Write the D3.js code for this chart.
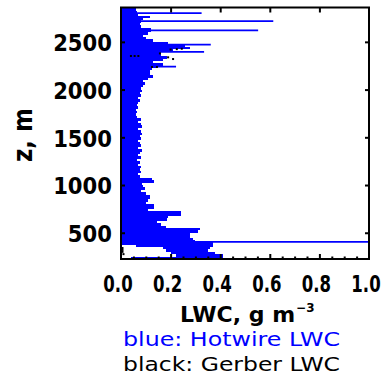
<!DOCTYPE html>
<html>
<head>
<meta charset="utf-8">
<script src="https://cdn.jsdelivr.net/npm/d3@7"></script>
<style>
  html, body { margin: 0; padding: 0; background: #fff; }
  svg { display: block; }
</style>
</head>
<body>
<svg id="chart" width="389" height="376"></svg>
<script>
// Altitude bands (centre, m), 25 m thick, with hotwire LWC range in each band (g m^-3)
const altitude = [
  237.5, 262.5, 287.5, 312.5, 337.5, 362.5, 387.5, 412.5, 437.5, 462.5,
  487.5, 512.5, 537.5, 562.5, 587.5, 612.5, 637.5, 662.5, 687.5, 712.5,
  737.5, 762.5, 787.5, 812.5, 837.5, 862.5, 887.5, 912.5, 937.5, 962.5,
  987.5, 1012.5, 1037.5, 1062.5, 1087.5, 1112.5, 1137.5, 1162.5, 1187.5, 1212.5,
  1237.5, 1262.5, 1287.5, 1312.5, 1337.5, 1362.5, 1387.5, 1412.5, 1437.5, 1462.5,
  1487.5, 1512.5, 1537.5, 1562.5, 1587.5, 1612.5, 1637.5, 1662.5, 1687.5, 1712.5,
  1737.5, 1762.5, 1787.5, 1812.5, 1837.5, 1862.5, 1887.5, 1912.5, 1937.5, 1962.5,
  1987.5, 2012.5, 2037.5, 2062.5, 2087.5, 2112.5, 2137.5, 2162.5, 2187.5, 2212.5,
  2237.5, 2262.5, 2287.5, 2312.5, 2337.5, 2362.5, 2387.5, 2412.5, 2437.5, 2462.5,
  2487.5, 2512.5, 2537.5, 2562.5, 2587.5, 2612.5, 2637.5, 2662.5, 2687.5, 2712.5,
  2737.5, 2762.5, 2787.5, 2812.5, 2837.5, 2862.5
];
const hotwireLow = [
  0.04, 0.22, 0.20, 0.18, 0.17, 0.06, 0, 0, 0, 0,
  0, 0, 0, 0, 0, 0, 0, 0, 0, 0,
  0, 0, 0, 0, 0, 0, 0, 0, 0, 0,
  0, 0, 0, 0, 0, 0, 0, 0, 0, 0,
  0, 0, 0, 0, 0, 0, 0, 0, 0, 0,
  0, 0, 0, 0, 0, 0, 0, 0, 0, 0,
  0, 0, 0, 0, 0, 0, 0, 0, 0, 0,
  0, 0, 0, 0, 0, 0, 0, 0, 0, 0,
  0, 0, 0, 0, 0, 0, 0, 0, 0, 0,
  0, 0, 0, 0, 0, 0, 0, 0, 0, 0,
  0, 0, 0, 0, 0, 0
];
const hotwireHigh = [
  0.41, 0.41, 0.38, 0.35, 0.36, 0.37, 0.37, 0.30, 0.29, 0.28,
  0.28, 0.31, 0.32, 0.18, 0.16, 0.145, 0.185, 0.19, 0.24, 0.24,
  0.11, 0.135, 0.135, 0.10, 0.11, 0.117, 0.115, 0.10, 0.08, 0.095,
  0.09, 0.085, 0.133, 0.125, 0.075, 0.07, 0.082, 0.075, 0.08, 0.07,
  0.075, 0.065, 0.08, 0.07, 0.075, 0.085, 0.07, 0.08, 0.075, 0.07,
  0.08, 0.075, 0.085, 0.08, 0.07, 0.085, 0.08, 0.07, 0.08, 0.065,
  0.06, 0.065, 0.06, 0.07, 0.065, 0.07, 0.075, 0.07, 0.08, 0.075,
  0.085, 0.08, 0.09, 0.095, 0.09, 0.11, 0.13, 0.115, 0.115, 0.125,
  0.14, 0.17, 0.13, 0.17, 0.185, 0.16, 0.16, 0.21, 0.28, 0.26,
  0.19, 0.13, 0.10, 0.09, 0.11, 0.12, 0.12, 0.08, 0.075, 0.08,
  0.09, 0.117, 0.07, 0.065, 0.06, 0.09
];

// Isolated hotwire peaks (single samples)
const spikeAltitude = [2802, 2717, 2620, 2470, 2395, 2241, 405];
const spikeLwc = [0.325, 0.614, 0.553, 0.362, 0.335, 0.222, 1.0];

// Gerber probe samples
const gerberAltitude = [2420, 2424, 2428, 2379, 2352, 2352, 2352, 2338, 2320, 2237, 2237, 340, 320, 300, 276];
const gerberLwc = [0.20, 0.225, 0.245, 0.157, 0.04, 0.055, 0.07, 0.19, 0.21, 0.125, 0.145, 0.006, 0.006, 0.006, 0.01];

const xTicks = [0, 0.2, 0.4, 0.6, 0.8, 1.0];
const xTickLabels = ["0.0", "0.2", "0.4", "0.6", "0.8", "1.0"];
const xMinorTicks = [0.05, 0.1, 0.15, 0.25, 0.3, 0.35, 0.45, 0.5, 0.55, 0.65, 0.7, 0.75, 0.85, 0.9, 0.95];
const yTicks = [500, 1000, 1500, 2000, 2500];
const yTickLabels = ["500", "1000", "1500", "2000", "2500"];
const zDomain = [225, 2860];
const bandHalf = 12.5;

const BLUE = "#0000ff";
const FONT = "'DejaVu Sans', sans-serif";

const plotLeft = 121, plotRight = 369, plotTop = 7.5, plotBottom = 259;
const x = d3.scaleLinear().domain([0, 1]).range([plotLeft, plotRight]);
const y = d3.scaleLinear().domain(zDomain).range([plotBottom, plotTop]);

const svg = d3.select("#chart");
svg.append("rect").attr("width", 389).attr("height", 376).attr("fill", "#fff");

svg.append("defs").append("clipPath").attr("id", "plot-clip")
  .append("rect")
  .attr("x", plotLeft).attr("y", plotTop)
  .attr("width", plotRight - plotLeft).attr("height", plotBottom - plotTop);

const plot = svg.append("g").attr("clip-path", "url(#plot-clip)");

// Hotwire LWC profile: one bar per altitude band
const bands = altitude.map((z, i) => ({ z, lo: hotwireLow[i], hi: hotwireHigh[i] }));
plot.append("g")
  .attr("shape-rendering", "crispEdges")
  .selectAll("rect")
  .data(bands)
  .join("rect")
  .attr("x", d => x(d.lo))
  .attr("width", d => x(d.hi) - x(d.lo))
  .attr("y", d => y(d.z + bandHalf))
  .attr("height", d => y(d.z - bandHalf) - y(d.z + bandHalf))
  .attr("fill", BLUE);

// Hotwire peaks
const spikes = spikeAltitude.map((z, i) => ({ z, v: spikeLwc[i] }));
plot.append("g")
  .selectAll("line")
  .data(spikes)
  .join("line")
  .attr("x1", x(0))
  .attr("x2", d => x(d.v))
  .attr("y1", d => y(d.z))
  .attr("y2", d => y(d.z))
  .attr("stroke", BLUE)
  .attr("stroke-width", 1.7);

// Gerber samples
const gerber = gerberAltitude.map((z, i) => ({ z, v: gerberLwc[i] }));
plot.append("g")
  .selectAll("rect")
  .data(gerber)
  .join("rect")
  .attr("x", d => x(d.v) - 1)
  .attr("y", d => y(d.z) - 1)
  .attr("width", 2)
  .attr("height", 2)
  .attr("fill", "#000");

// Axes: tick marks from d3 axes, labels drawn separately
function styleAxis(g) {
  g.select(".domain").remove();
  g.selectAll(".tick text").remove();
  g.selectAll(".tick line").attr("stroke", "#000").attr("stroke-width", 2);
}

const majorInner = xTicks.filter(v => v > 0 && v < 1);

svg.append("g").attr("transform", `translate(0,${plotBottom})`)
  .call(d3.axisBottom(x).tickValues(majorInner).tickSizeInner(-5).tickSizeOuter(0))
  .call(styleAxis);
svg.append("g").attr("transform", `translate(0,${plotBottom})`)
  .call(d3.axisBottom(x).tickValues(xMinorTicks).tickSizeInner(-2.5).tickSizeOuter(0))
  .call(styleAxis);
svg.append("g").attr("transform", `translate(0,${plotTop})`)
  .call(d3.axisTop(x).tickValues(majorInner).tickSizeInner(-5).tickSizeOuter(0))
  .call(styleAxis);
svg.append("g").attr("transform", `translate(${plotRight},0)`)
  .call(d3.axisRight(y).tickValues(yTicks).tickSizeInner(-4).tickSizeOuter(0))
  .call(styleAxis);
svg.append("g").attr("transform", `translate(${plotLeft},0)`)
  .call(d3.axisLeft(y).tickValues(yTicks).tickSizeInner(-4).tickSizeOuter(0))
  .call(styleAxis);

// Frame
svg.append("rect")
  .attr("x", plotLeft).attr("y", plotTop)
  .attr("width", plotRight - plotLeft).attr("height", plotBottom - plotTop)
  .attr("fill", "none")
  .attr("stroke", "#000")
  .attr("stroke-width", 2);

// X tick labels
svg.append("g").selectAll("text")
  .data(xTicks)
  .join("text")
  .attr("transform", d => `translate(${x(d) - 3},292) scale(0.72,1)`)
  .attr("text-anchor", "middle")
  .attr("font-family", FONT)
  .attr("font-weight", "bold")
  .attr("font-size", 23)
  .attr("fill", "#000")
  .text((d, i) => xTickLabels[i]);

// Y tick labels
svg.append("g").selectAll("text")
  .data(yTicks)
  .join("text")
  .attr("transform", d => `translate(112,${y(d) + 9.2}) scale(0.92,1)`)
  .attr("text-anchor", "end")
  .attr("font-family", FONT)
  .attr("font-weight", "bold")
  .attr("font-size", 23)
  .attr("fill", "#000")
  .text((d, i) => yTickLabels[i]);

// Y axis title
svg.append("text")
  .attr("transform", "translate(32,135) rotate(-90)")
  .attr("text-anchor", "middle")
  .attr("font-family", FONT)
  .attr("font-weight", "bold")
  .attr("font-size", 26)
  .attr("textLength", 54)
  .attr("lengthAdjust", "spacingAndGlyphs")
  .attr("fill", "#000")
  .text("z, m");

// X axis title with superscript exponent
const xt = svg.append("text")
  .attr("x", 180).attr("y", 322)
  .attr("font-family", FONT)
  .attr("font-weight", "bold")
  .attr("font-size", 22)
  .attr("fill", "#000");
xt.append("tspan").text("LWC, g m");
xt.append("tspan").attr("dx", 1).attr("dy", -10).attr("font-size", 12).text("\u22123");

// Legend lines
svg.append("text")
  .attr("x", 123).attr("y", 346)
  .attr("font-family", FONT)
  .attr("font-size", 19)
  .attr("textLength", 217)
  .attr("lengthAdjust", "spacingAndGlyphs")
  .attr("fill", BLUE)
  .text("blue: Hotwire LWC");
svg.append("text")
  .attr("x", 123).attr("y", 371)
  .attr("font-family", FONT)
  .attr("font-size", 19)
  .attr("textLength", 217)
  .attr("lengthAdjust", "spacingAndGlyphs")
  .attr("fill", "#000")
  .text("black: Gerber LWC");
</script>
</body>
</html>
